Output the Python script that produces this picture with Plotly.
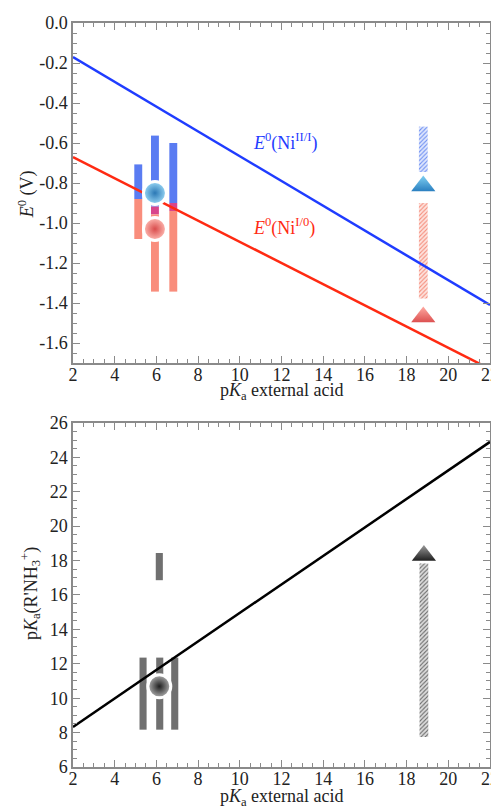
import plotly.graph_objects as go
from plotly.subplots import make_subplots

# ---------------- data ----------------
# top panel: redox potentials
line_x = [2, 22]
blue_line_y = [-0.17, -1.41]
red_line_y = [-0.67, -1.73]

bar_x = [5.13, 5.93, 6.81]
blue_hi = [-0.707, -0.563, -0.600]
blue_lo = [-0.880, -0.918, -0.900]
ovl_hi = [-0.880, -0.918, -0.900]
ovl_lo = [-0.880, -0.957, -0.940]
red_hi = [-0.880, -0.957, -0.940]
red_lo = [-1.080, -1.343, -1.343]

sphere_x = [5.93]
blue_sphere_y = [-0.85]
red_sphere_y = [-1.03]

tri_x = [18.8]
blue_tri_y = [-0.815]
red_tri_y = [-1.47]
blue_hatch = [-0.518, -0.745]
red_hatch = [-0.900, -1.377]

# bottom panel: pKa
pka_line_y = [8.33, 24.9]
gray_x = [5.36, 6.16, 6.88]
gray_lo = [8.17, 8.17, 8.17]
gray_hi = [12.36, 12.36, 12.36]
upper_x = [6.14]
upper_lo = [16.86]
upper_hi = [18.44]
black_sphere_x = [6.14]
black_sphere_y = [10.69]
black_tri_x = [18.83]
black_tri_y = [18.3]
gray_hatch = [7.74, 17.83]

x_ticks = [2, 4, 6, 8, 10, 12, 14, 16, 18, 20, 22]
top_y_ticks = [0.0, -0.2, -0.4, -0.6, -0.8, -1.0, -1.2, -1.4, -1.6]
top_y_text = ["0.0", "-0.2", "-0.4", "-0.6", "-0.8", "-1.0", "-1.2", "-1.4", "-1.6"]
bot_y_ticks = [6, 8, 10, 12, 14, 16, 18, 20, 22, 24, 26]

# ---------------- figure ----------------
FONT = "Liberation Serif"
BLUE = "#5a7cf2"
SALMON = "#f98d7c"
MAGENTA = "#d8468c"
GRAY = "#707070"
TXT = "#222222"

fig = make_subplots(rows=2, cols=1)


def bars(xs, lo, hi, color, width, row, hatch_bg=None):
    heights = [h - l for l, h in zip(lo, hi)]
    marker = dict(color=color, line=dict(width=0))
    if hatch_bg:
        marker["pattern"] = dict(shape="/", size=3, solidity=0.35,
                                 fgcolor=color, bgcolor=hatch_bg, fillmode="replace")
    fig.add_trace(go.Bar(x=xs, y=heights, base=lo, width=width,
                         marker=marker, showlegend=False, hoverinfo="skip"),
                  row=row, col=1)


# top bars
bars(bar_x, blue_lo, blue_hi, BLUE, 0.38, 1)
bars(bar_x[1:], ovl_lo[1:], ovl_hi[1:], MAGENTA, 0.38, 1)
bars(bar_x, red_lo, red_hi, SALMON, 0.38, 1)
bars(tri_x, [blue_hatch[1]], [blue_hatch[0]], "#6f90f2", 0.42, 1, hatch_bg="#dfe7fd")
bars(tri_x, [red_hatch[1]], [red_hatch[0]], "#f58d7c", 0.42, 1, hatch_bg="#fde3de")

fig.add_trace(go.Scatter(x=line_x, y=blue_line_y, mode="lines",
                         line=dict(color="#1f3cff", width=2.5), showlegend=False), row=1, col=1)
fig.add_trace(go.Scatter(x=line_x, y=red_line_y, mode="lines",
                         line=dict(color="#ff2a12", width=2.5), showlegend=False), row=1, col=1)

fig.add_trace(go.Scatter(x=sphere_x, y=blue_sphere_y, mode="markers",
                         marker=dict(size=23, color="#9ad8f6",
                                     gradient=dict(type="radial", color="#2b78b5"),
                                     line=dict(color="white", width=3)),
                         showlegend=False), row=1, col=1)
fig.add_trace(go.Scatter(x=sphere_x, y=red_sphere_y, mode="markers",
                         marker=dict(size=23, color="#ffbcb4",
                                     gradient=dict(type="radial", color="#d94c4c"),
                                     line=dict(color="white", width=3)),
                         showlegend=False), row=1, col=1)
fig.add_trace(go.Scatter(x=tri_x, y=blue_tri_y, mode="markers",
                         marker=dict(symbol="triangle-up", size=21, color="#7fd0f2",
                                     gradient=dict(type="vertical", color="#2a7fc0"),
                                     line=dict(width=0)),
                         showlegend=False), row=1, col=1)
fig.add_trace(go.Scatter(x=tri_x, y=red_tri_y, mode="markers",
                         marker=dict(symbol="triangle-up", size=21, color="#ffaaa2",
                                     gradient=dict(type="vertical", color="#dc5050"),
                                     line=dict(width=0)),
                         showlegend=False), row=1, col=1)

# bottom
bars(gray_x, gray_lo, gray_hi, GRAY, 0.34, 2)
bars(upper_x, upper_lo, upper_hi, GRAY, 0.34, 2)
bars(black_tri_x, [gray_hatch[0]], [gray_hatch[1]], "#6a6a6a", 0.42, 2, hatch_bg="#dcdcdc")

fig.add_trace(go.Scatter(x=line_x, y=pka_line_y, mode="lines",
                         line=dict(color="black", width=2.5), showlegend=False), row=2, col=1)
fig.add_trace(go.Scatter(x=black_sphere_x, y=black_sphere_y, mode="markers",
                         marker=dict(size=23, color="#b0b0b0",
                                     gradient=dict(type="radial", color="#1e1e1e"),
                                     line=dict(color="white", width=3)),
                         showlegend=False), row=2, col=1)
fig.add_trace(go.Scatter(x=black_tri_x, y=black_tri_y, mode="markers",
                         marker=dict(symbol="triangle-up", size=21, color="#9a9a9a",
                                     gradient=dict(type="vertical", color="#202020"),
                                     line=dict(width=0)),
                         showlegend=False), row=2, col=1)

axis_common = dict(showline=True, linecolor="#8a8a8a", linewidth=1.5, mirror="allticks",
                   ticks="inside", ticklen=7, tickcolor="#8a8a8a", tickwidth=1.3,
                   showgrid=False, zeroline=False, automargin=False,
                   tickfont=dict(family=FONT, size=18, color=TXT))

fig.update_xaxes(**axis_common, range=[2, 22], tickvals=x_ticks, ticklabelstandoff=-5,
                 ticklabeloverflow="allow",
                 minor=dict(ticks="inside", dtick=0.5, ticklen=4, tickcolor="#8a8a8a"))
fig.update_yaxes(**axis_common)
fig.update_yaxes(range=[-1.7, 0], tickvals=top_y_ticks, ticktext=top_y_text,
                 minor=dict(ticks="inside", dtick=0.05, ticklen=4, tickcolor="#8a8a8a"),
                 row=1, col=1)
fig.update_yaxes(range=[6, 26], tickvals=bot_y_ticks,
                 minor=dict(ticks="inside", dtick=0.5, ticklen=4, tickcolor="#8a8a8a"),
                 row=2, col=1)

# the page body adds an 8 px offset, so the margins compensate for it
fig.update_layout(
    width=499, height=807,
    margin=dict(l=65, r=17, t=15, b=48),
    paper_bgcolor="white", plot_bgcolor="white",
    barmode="overlay", showlegend=False,
    xaxis=dict(domain=[0, 1]), yaxis=dict(domain=[0.543, 1.0]),
    xaxis2=dict(domain=[0, 1]), yaxis2=dict(domain=[0.0, 0.4624]),
)

title_font = dict(family=FONT, size=18, color=TXT)
fig.add_annotation(x=0.5, y=0.505, xref="paper", yref="paper", showarrow=False,
                   xanchor="center", yanchor="middle",
                   text="p<i>K</i><sub>a</sub> external acid", font=title_font)
fig.add_annotation(x=0.5, y=-0.041, xref="paper", yref="paper", showarrow=False,
                   xanchor="center", yanchor="middle",
                   text="p<i>K</i><sub>a</sub> external acid", font=title_font)
fig.add_annotation(x=-0.1115, y=0.769, xref="paper", yref="paper", showarrow=False,
                   xanchor="center", yanchor="middle", textangle=-90,
                   text="<i>E</i><sup>0</sup> (V)", font=title_font)
fig.add_annotation(x=-0.103, y=0.2325, xref="paper", yref="paper", showarrow=False,
                   xanchor="center", yanchor="middle", textangle=-90,
                   text="p<i>K</i><sub>a</sub>(R'NH<sub>3</sub><sup>+</sup>)", font=title_font)

fig.add_annotation(x=10.55, y=-0.595, xref="x", yref="y", xanchor="left", showarrow=False,
                   text="<i>E</i><sup>0</sup>(Ni<sup>II/I</sup>)",
                   font=dict(family=FONT, size=18, color="#1f3cff"))
fig.add_annotation(x=10.55, y=-1.02, xref="x", yref="y", xanchor="left", showarrow=False,
                   text="<i>E</i><sup>0</sup>(Ni<sup>I/0</sup>)",
                   font=dict(family=FONT, size=18, color="#ff2a12"))

fig.write_html("out.html")
